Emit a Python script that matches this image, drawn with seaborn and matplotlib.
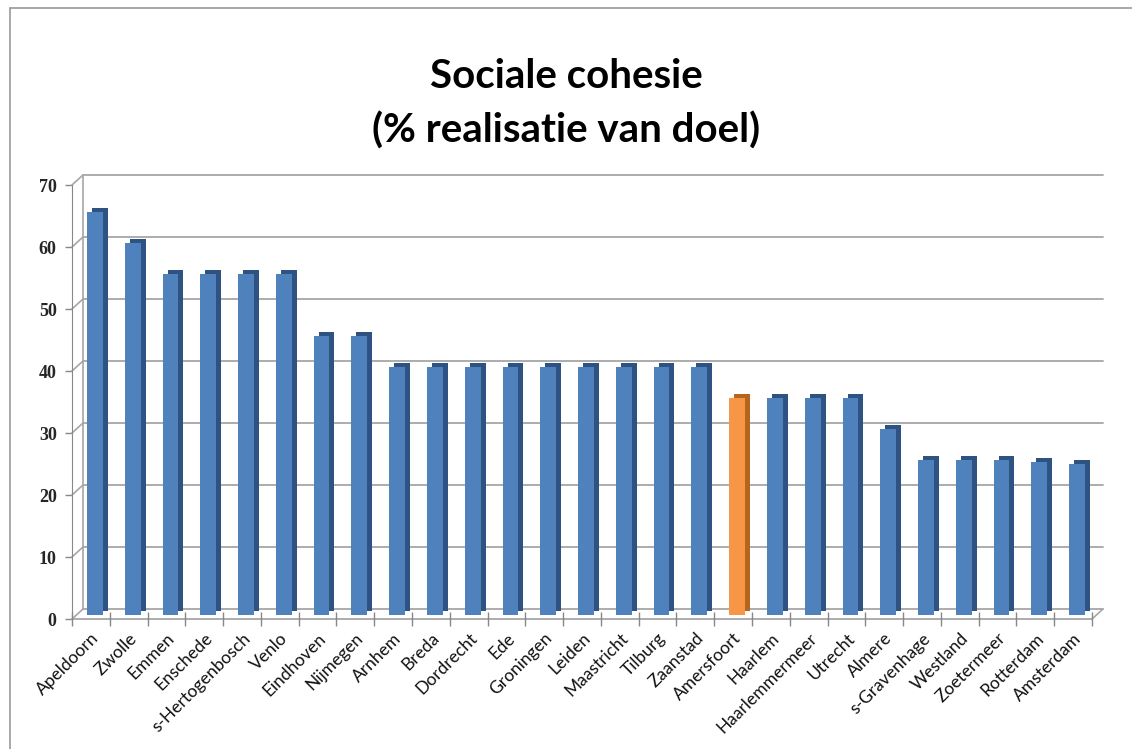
import matplotlib
matplotlib.use("Agg")
import matplotlib.pyplot as plt
import matplotlib.transforms as mtransforms
from matplotlib.lines import Line2D
import seaborn as sns
import pandas as pd

cities = ["Apeldoorn", "Zwolle", "Emmen", "Enschede", "s-Hertogenbosch", "Venlo",
          "Eindhoven", "Nijmegen", "Arnhem", "Breda", "Dordrecht", "Ede", "Groningen",
          "Leiden", "Maastricht", "Tilburg", "Zaanstad", "Amersfoort", "Haarlem",
          "Haarlemmermeer", "Utrecht", "Almere", "s-Gravenhage", "Westland",
          "Zoetermeer", "Rotterdam", "Amsterdam"]
values = [65, 60, 55, 55, 55, 55, 45, 45, 40, 40, 40, 40, 40, 40, 40, 40, 40,
          35, 35, 35, 35, 30, 25, 25, 25, 24.7, 24.3]
highlight = "Amersfoort"
yticks = [0, 10, 20, 30, 40, 50, 60, 70]

front_blue, side_blue = "#4F81BD", "#2E5281"
front_orange, side_orange = "#F79646", "#B5651D"

df = pd.DataFrame({"city": cities, "value": values})
front_pal = {c: (front_orange if c == highlight else front_blue) for c in cities}
side_pal = {c: (side_orange if c == highlight else side_blue) for c in cities}

sns.set_style("white")
plt.rcParams["font.family"] = ["Lato", "DejaVu Sans"]

W, H, DPI = 1132, 749, 100
fig = plt.figure(figsize=(W / DPI, H / DPI), dpi=DPI)
ax = fig.add_axes([72 / W, 1 - 619 / H, (1092 - 72) / W, (619 - 185) / H])

# depth faces (offset copy)
sns.barplot(data=df, x="city", y="value", hue="city", palette=side_pal,
            legend=False, width=0.42, ax=ax, saturation=1, zorder=2,
            linewidth=0, dodge=False)
n_side = len(ax.patches)
off_side = mtransforms.ScaledTranslation(9 / DPI, 8 / DPI, fig.dpi_scale_trans)
for p in ax.patches[:n_side]:
    p.set_transform(ax.transData + off_side)
# front faces (set slightly into the depth of the floor)
sns.barplot(data=df, x="city", y="value", hue="city", palette=front_pal,
            legend=False, width=0.42, ax=ax, saturation=1, zorder=3,
            linewidth=0, dodge=False)
off_front = mtransforms.ScaledTranslation(4 / DPI, 4 / DPI, fig.dpi_scale_trans)
for p in ax.patches[n_side:]:
    p.set_transform(ax.transData + off_front)

ax.set_xlim(-0.5, len(cities) - 0.5)
ax.set_ylim(0, 70)
ax.set_yticks(yticks)
ax.set_yticklabels([str(t) for t in yticks], fontfamily="Liberation Serif",
                   fontweight="bold", fontsize=13)
ax.set_xlabel("")
ax.set_ylabel("")
ax.set_xticks(range(len(cities)))
ax.set_xticklabels(cities, rotation=45, ha="right", rotation_mode="anchor",
                   fontsize=12.5, color="#111111")
ax.tick_params(axis="x", length=0, pad=8)
ax.tick_params(axis="y", length=5, width=1, color="#888888", direction="out",
               left=True, pad=6)
for s in ["top", "right", "bottom"]:
    ax.spines[s].set_visible(False)
ax.spines["left"].set_color("#888888")
ax.grid(False)

# back-plane gridlines and connectors
back = mtransforms.ScaledTranslation(11 / DPI, 10 / DPI, fig.dpi_scale_trans)
gtrans = ax.get_yaxis_transform() + back
x0 = ax.transAxes.transform((0, 0))[0]
for t in yticks:
    ax.add_line(Line2D([0, 1], [t, t], transform=gtrans, color="#A6A6A6", lw=1.3,
                       zorder=1, clip_on=False))
    y0 = ax.transData.transform((0, t))[1]
    ax.add_line(Line2D([x0, x0 + 11], [y0, y0 + 10], transform=None,
                       color="#A6A6A6", lw=1.2, zorder=1, clip_on=False))
ax.add_line(Line2D([0, 0], [0, 70], transform=gtrans,
                   color="#A6A6A6", lw=1.2, zorder=1, clip_on=False))
# floor front line and right diagonal
ax.add_line(Line2D([0, 1], [0, 0], transform=ax.transAxes, color="#A6A6A6",
                   lw=1.3, zorder=4, clip_on=False))
xr, yr = ax.transAxes.transform((1, 0))
ax.add_line(Line2D([xr, xr + 11], [yr, yr + 10], transform=None,
                   color="#A6A6A6", lw=1.2, zorder=4, clip_on=False))
# category boundary tick marks
bx = [i - 0.5 for i in range(len(cities) + 1)]
ax.plot(bx, [0] * len(bx), linestyle="none", marker="|", markersize=10,
        color="#888888", clip_on=False, zorder=4)

fig.text(0.5, 1 - 76 / H, "Sociale cohesie", ha="center", va="center",
         fontsize=29, fontweight="bold", color="black")
fig.text(0.5, 1 - 131 / H, "(% realisatie van doel)", ha="center", va="center",
         fontsize=29, fontweight="bold", color="black")

# slide border (top and left)
fig.add_artist(Line2D([10 / W, 1], [1 - 8 / H, 1 - 8 / H], transform=fig.transFigure,
                      color="#999999", lw=1.2))
fig.add_artist(Line2D([10 / W, 10 / W], [0, 1 - 8 / H], transform=fig.transFigure,
                      color="#999999", lw=1.2))

fig.savefig("out.png", dpi=DPI)
